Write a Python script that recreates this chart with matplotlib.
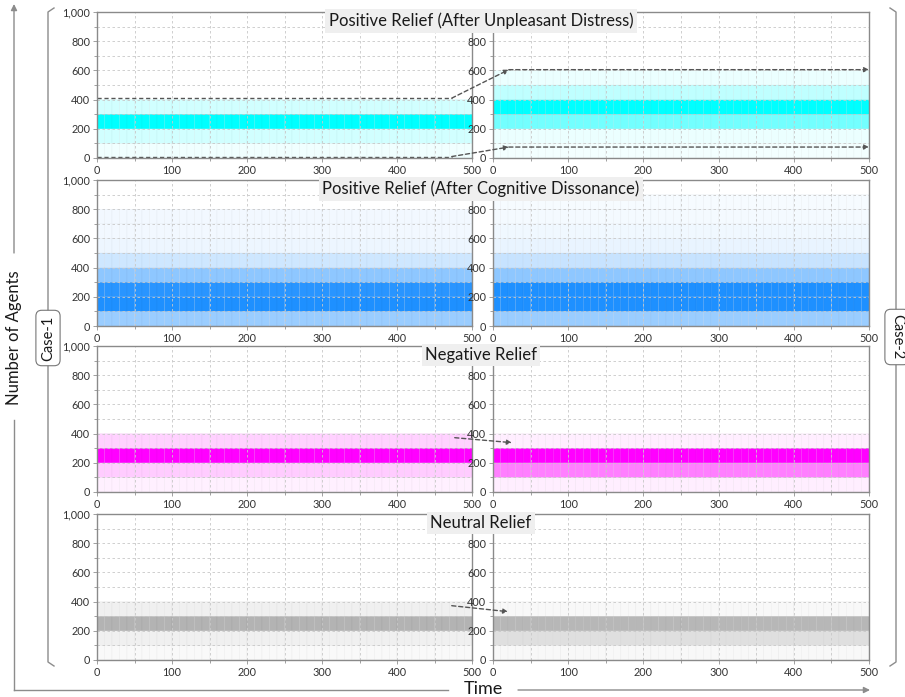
import numpy as np
import matplotlib
matplotlib.use('Agg')
from matplotlib import pyplot as plt
from matplotlib.colors import LinearSegmentedColormap
from matplotlib.patches import ConnectionPatch, FancyArrowPatch
from matplotlib.lines import Line2D
from matplotlib.ticker import MultipleLocator, FuncFormatter

plt.rcParams['font.family'] = ['Lato', 'DejaVu Sans']

# time bins (10 steps each) and agent bins (100 agents each)
time_edges = np.arange(0, 510, 10)
agent_edges = np.arange(0, 1100, 100)

titles = ['Positive Relief (After Unpleasant Distress)',
          'Positive Relief (After Cognitive Dissonance)',
          'Negative Relief',
          'Neutral Relief']
base_colors = ['#00ffff', '#1e90ff', '#ff00ff', '#808080']

# share of time spent in each agent bin (0-100, 100-200, ... 900-1000)
cyan_case1 = [0.06, 0.18, 1.0, 0.18, 0, 0, 0, 0, 0, 0]
cyan_case2 = [0.05, 0.08, 0.55, 1.0, 0.25, 0.08, 0, 0, 0, 0]
blue_case1 = [0.45, 1.0, 0.95, 0.5, 0.22, 0.08, 0.06, 0.06, 0, 0]
blue_case2 = [0.45, 1.0, 1.0, 0.5, 0.25, 0.1, 0.07, 0.05, 0.04, 0]
magenta_case1 = [0.06, 0.2, 1.0, 0.18, 0, 0, 0, 0, 0, 0]
magenta_case2 = [0.07, 0.5, 1.0, 0.07, 0, 0, 0, 0, 0, 0]
gray_case1 = [0.05, 0.12, 0.6, 0.12, 0, 0, 0, 0, 0, 0]
gray_case2 = [0.06, 0.25, 0.57, 0.06, 0, 0, 0, 0, 0, 0]

case1 = [cyan_case1, blue_case1, magenta_case1, gray_case1]
case2 = [cyan_case2, blue_case2, magenta_case2, gray_case2]

# dashed guide lines (x, y) in data units
unpleasant_low_c1 = [(0, 10), (473, 10)]
unpleasant_high_c1 = [(0, 410), (473, 410)]
unpleasant_low_c2 = [(21, 75), (500, 75)]
unpleasant_high_c2 = [(21, 605), (500, 605)]
negative_shift = [(477, 372), (25, 338)]
neutral_shift = [(473, 372), (20, 331)]

W, H = 905, 697
row_tops = [12, 180, 346, 514]
row_h = 146
left_x = (97, 472)
right_x = (493, 869)


def rect(x0, x1, top):
    return [x0 / W, 1 - (top + row_h) / H, (x1 - x0) / W, row_h / H]


def fx(x):
    return x / W


def fy(y):
    return 1 - y / H


def draw_panel(ax, dens, color, hide_top=False):
    cmap = LinearSegmentedColormap.from_list('c', ['#ffffff', color])
    z = np.tile(np.array(dens)[:, None], (1, len(time_edges) - 1))
    z = np.ma.masked_where(z == 0, z)
    ax.pcolor(time_edges, agent_edges, z, cmap=cmap, vmin=0, vmax=1,
              edgecolors=(0, 0, 0, 0.045), linewidth=0.35)
    ax.set_xlim(0, 500)
    ax.set_ylim(0, 1000)
    ax.xaxis.set_major_locator(MultipleLocator(100))
    ax.xaxis.set_minor_locator(MultipleLocator(50))
    ax.yaxis.set_major_locator(MultipleLocator(200))
    ax.yaxis.set_minor_locator(MultipleLocator(100))
    if hide_top:
        ax.yaxis.set_major_formatter(FuncFormatter(lambda v, p: '' if v >= 1000 else f'{v:,.0f}'))
    else:
        ax.yaxis.set_major_formatter(FuncFormatter(lambda v, p: f'{v:,.0f}'))
    ax.set_axisbelow('line')
    ax.grid(which='both', ls=(0, (3, 3)), color='#c8c8c8', lw=0.6)
    ax.tick_params(which='both', labelsize=7.8, length=3, width=0.6,
                   color='#909090', labelcolor='#333333', pad=2)
    ax.tick_params(which='minor', length=2)
    for s in ax.spines.values():
        s.set_color('#8a8a8a')
        s.set_linewidth(1)


fig = plt.figure(figsize=(W / 100, H / 100), dpi=100)

axes_l = []
axes_r = []
for i in range(4):
    axl = fig.add_axes(rect(*left_x, row_tops[i]))
    axr = fig.add_axes(rect(*right_x, row_tops[i]))
    draw_panel(axl, case1[i], base_colors[i])
    draw_panel(axr, case2[i], base_colors[i], hide_top=True)
    axes_l.append(axl)
    axes_r.append(axr)
    fig.text(fx(481), fy(row_tops[i] + 9), titles[i], ha='center', va='center',
             fontsize=12, color='#1a1a1a', zorder=10,
             bbox=dict(boxstyle='square,pad=0.2', fc='#efefef', ec='none'))

dash_kw = dict(color='#555555', lw=1, ls=(0, (3, 2)))
arrow_kw = dict(arrowstyle='-|>', mutation_scale=7, color='#555555', lw=1, ls=(0, (3, 2)))

# unpleasant distress guide lines
for seg in [unpleasant_low_c1, unpleasant_high_c1]:
    xs, ys = zip(*seg)
    axes_l[0].plot(xs, ys, **dash_kw)
for seg in [unpleasant_low_c2, unpleasant_high_c2]:
    axes_r[0].annotate('', xy=seg[1], xytext=seg[0], xycoords='data',
                       arrowprops=dict(shrinkA=0, shrinkB=0, **arrow_kw))
for a, b in [(unpleasant_low_c1[1], unpleasant_low_c2[0]),
             (unpleasant_high_c1[1], unpleasant_high_c2[0])]:
    con = ConnectionPatch(xyA=a, coordsA='data', axesA=axes_l[0],
                          xyB=b, coordsB='data', axesB=axes_r[0],
                          shrinkA=0, shrinkB=0, zorder=5, **arrow_kw)
    fig.add_artist(con)

for row, seg in [(2, negative_shift), (3, neutral_shift)]:
    con = ConnectionPatch(xyA=seg[0], coordsA='data', axesA=axes_l[row],
                          xyB=seg[1], coordsB='data', axesB=axes_r[row],
                          shrinkA=0, shrinkB=0, zorder=5, **arrow_kw)
    fig.add_artist(con)

# outer frame: axis arrows
line_c = '#8c8c8c'
fig.add_artist(Line2D([fx(14), fx(14)], [fy(690), fy(420)], color=line_c, lw=1))
fig.add_artist(Line2D([fx(14), fx(448)], [fy(690), fy(690)], color=line_c, lw=1))
fig.add_artist(FancyArrowPatch((fx(14), fy(253)), (fx(14), fy(4)),
               transform=fig.transFigure, arrowstyle='-|>', mutation_scale=9,
               color=line_c, lw=1, shrinkA=0, shrinkB=0))
fig.add_artist(FancyArrowPatch((fx(518), fy(690)), (fx(870), fy(690)),
               transform=fig.transFigure, arrowstyle='-|>', mutation_scale=9,
               color=line_c, lw=1, shrinkA=0, shrinkB=0))
fig.text(fx(14), fy(338), 'Number of Agents', rotation=90, ha='center', va='center',
         fontsize=12, color='#1a1a1a')
fig.text(fx(483), fy(689), 'Time', ha='center', va='center', fontsize=13, color='#1a1a1a')

# case brackets
fig.add_artist(Line2D([fx(54), fx(48), fx(48), fx(54)],
                      [fy(8), fy(12), fy(662), fy(666)], color=line_c, lw=1))
fig.add_artist(Line2D([fx(890), fx(896), fx(896), fx(890)],
                      [fy(8), fy(12), fy(662), fy(666)], color=line_c, lw=1))
box_kw = dict(boxstyle='round,pad=0.35,rounding_size=0.4', fc='white', ec='#777777', lw=0.8)
fig.text(fx(48), fy(338), 'Case-1', rotation=90, ha='center', va='center',
         fontsize=10.5, color='#1a1a1a', bbox=box_kw, zorder=10)
fig.text(fx(897), fy(337), 'Case-2', rotation=-90, ha='center', va='center',
         fontsize=10.5, color='#1a1a1a', bbox=box_kw, zorder=10)

fig.savefig('out.png', dpi=100)
